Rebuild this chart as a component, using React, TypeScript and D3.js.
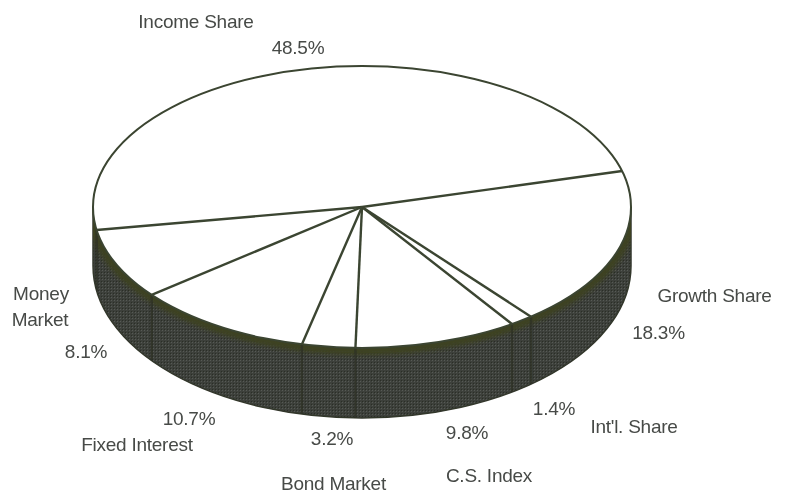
import React from "react";
import * as d3 from "d3";

const categories = ["Income Share", "Growth Share", "Int'l. Share", "C.S. Index", "Bond Market", "Fixed Interest", "Money Market"];
const shares = [48.5, 18.3, 1.4, 9.8, 3.2, 10.7, 8.1];
const shareLabels = ["48.5%", "18.3%", "1.4%", "9.8%", "3.2%", "10.7%", "8.1%"];

const W = 786, H = 494;
const cx = 362, cy = 207, rx = 269, ry = 141;
const baseCy = 266, baseRy = 152;
const sx = d3.scaleLinear().domain([-1, 1]).range([cx - rx, cx + rx]);
const sy = d3.scaleLinear().domain([-1, 1]).range([cy - ry, cy + ry]);
const sBase = d3.scaleLinear().domain([-1, 1]).range([baseCy - baseRy, baseCy + baseRy]);

// pie angles: 0 = 12 o'clock, clockwise
const startAngle = (-99.4 * Math.PI) / 180;
const arcs = d3.pie<number>().sort(null).startAngle(startAngle).endAngle(startAngle + 2 * Math.PI)(shares);

const px = (a: number) => sx(Math.sin(a));
const py = (a: number) => sy(-Math.cos(a));
const pb = (a: number) => sBase(-Math.cos(a));

const ink = "#3b4430";
const font = "'Liberation Sans', Arial, sans-serif";

const textItems: [string, number, number][] = [
  [categories[0], 196, 28],
  [shareLabels[0], 298, 54],
  [categories[1], 714.5, 302],
  [shareLabels[1], 658.5, 339],
  [categories[2], 634, 433],
  [shareLabels[2], 554, 415],
  [categories[3], 489, 482],
  [shareLabels[3], 467, 439],
  [categories[4], 333.5, 490],
  [shareLabels[4], 332, 445],
  [categories[5], 137, 451],
  [shareLabels[5], 189, 425],
  ["Money", 41, 300],
  ["Market", 40, 326],
  [shareLabels[6], 86, 358],
];

export default function App() {
  const frontTop = `M${cx + rx},${cy} A${rx},${ry} 0 0 1 ${cx - rx},${cy}`;
  const wall = `${frontTop} L${cx - rx},${baseCy} A${rx},${baseRy} 0 0 0 ${cx + rx},${baseCy} Z`;
  const boundaries = arcs.map((d) => d.startAngle);
  return (
    <svg width={W} height={H} style={{ position: "fixed", left: 0, top: 0, background: "#fff" }}>
      <defs>
        <pattern id="dots" width={3} height={3} patternUnits="userSpaceOnUse">
          <rect width={3} height={3} fill="#3d403b" />
          <rect width={1} height={1} fill="#565a54" />
          <rect x={2} y={2} width={1} height={1} fill="#2a2d26" />
        </pattern>
        <clipPath id="wallClip"><path d={wall} /></clipPath>
        <filter id="soft" x="-5%" y="-5%" width="110%" height="110%"><feGaussianBlur stdDeviation={0.7} /></filter>
        <filter id="band" x="-5%" y="-10%" width="110%" height="120%"><feGaussianBlur stdDeviation={2} /></filter>
      </defs>
      <g filter="url(#soft)">
        <path d={wall} fill="url(#dots)" stroke="#33372c" strokeWidth={1.5} />
        <g clipPath="url(#wallClip)">
          <path d={frontTop} fill="none" stroke="#3e4324" strokeWidth={14} filter="url(#band)" />
          {boundaries.filter((a) => Math.cos(a) < 0).map((a, i) => (
            <line key={i} x1={px(a)} y1={py(a)} x2={px(a)} y2={pb(a)} stroke="#2c3026" strokeWidth={2.5} opacity={0.7} />
          ))}
        </g>
        <ellipse cx={cx} cy={cy} rx={rx} ry={ry} fill="#fff" stroke={ink} strokeWidth={2} />
        {boundaries.map((a, i) => (
          <line key={i} x1={cx} y1={cy} x2={px(a)} y2={py(a)} stroke={ink} strokeWidth={2.4} />
        ))}
      </g>
      <g fontFamily={font} fontSize={19} letterSpacing={-0.25} fill="#474a47" textAnchor="middle" style={{ filter: "blur(0.35px)" }}>
        {textItems.map(([t, x, y], i) => <text key={i} x={x} y={y}>{t}</text>)}
      </g>
    </svg>
  );
}
